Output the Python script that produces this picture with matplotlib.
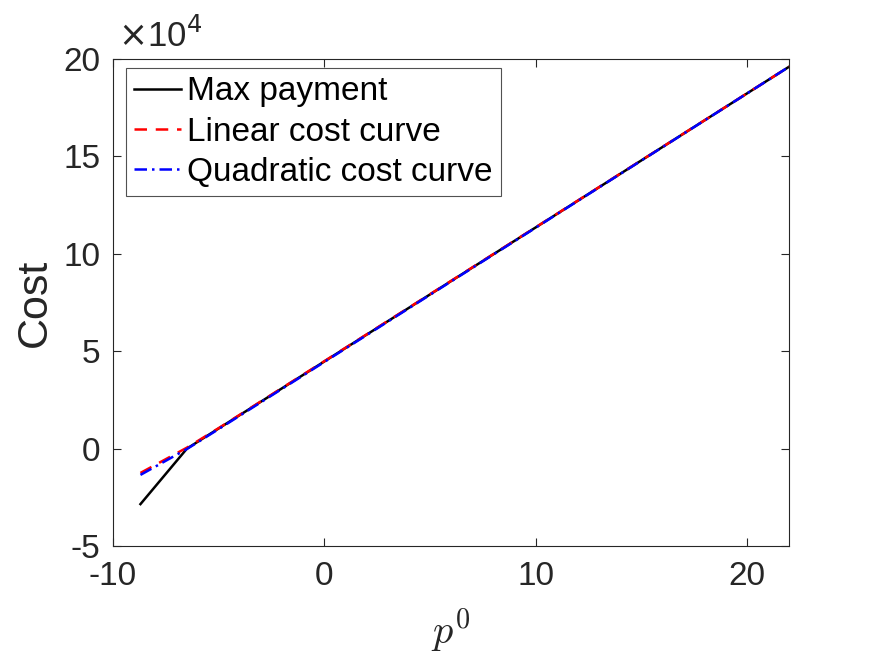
import matplotlib
matplotlib.use("Agg")
import matplotlib.pyplot as plt
import numpy as np

plt.rcParams['font.family'] = ['Liberation Sans', 'DejaVu Sans']
plt.rcParams['mathtext.fontset'] = 'cm'

# Data (cost in units of 1e4)
p_max = [-8.7, -6.5, 22.0]
cost_max = [-2.85, 0.0, 19.6]

p_lin = [-8.7, -6.5, -5.0, 22.0]
cost_lin = [-1.25, 0.05, 1.05, 19.6]

p_quad = [-8.7, -6.5, -5.0, 22.0]
cost_quad = [-1.35, -0.02, 1.0, 19.6]

xticks = [-10, 0, 10, 20]
yticks = [-5, 0, 5, 10, 15, 20]

fig = plt.figure(figsize=(8.72, 6.54), dpi=100)
ax = fig.add_axes([113/872, 108/654, 676/872, 487/654])

ax.plot(p_max, cost_max, color='black', lw=1.8, label='Max payment')
ax.plot(p_lin, cost_lin, color='red', lw=1.8, ls=(0, (5, 3.5)), label='Linear cost curve')
ax.plot(p_quad, cost_quad, color='blue', lw=1.8, ls=(0, (5, 2, 1, 2)), label='Quadratic cost curve')

ax.set_xlim(-10, 22)
ax.set_ylim(-5, 20)
ax.set_xticks(xticks)
ax.set_yticks(yticks)
ax.set_xticklabels([str(t) for t in xticks])
ax.set_yticklabels([str(t) for t in yticks])
ax.tick_params(direction='in', top=True, right=True, labelsize=24, length=6,
               width=0.8, colors='#262626')
ax.tick_params(axis='y', pad=9)
ax.tick_params(axis='x', pad=11)
for s in ax.spines.values():
    s.set_color('#262626')
    s.set_linewidth(0.8)

ax.set_ylabel('Cost', fontsize=31, color='#262626', labelpad=6)
ax.set_xlabel(r'$p^0$', fontsize=29, color='#262626', labelpad=10)

ax.text(0.007, 1.01, r'$\times$10$^4$', transform=ax.transAxes, fontsize=25,
        color='#262626', va='bottom', ha='left', family=['Liberation Sans', 'DejaVu Sans'],
        math_fontfamily='dejavusans')

leg = ax.legend(loc='upper left', bbox_to_anchor=(13/676, (487-9)/487),
                fontsize=24, frameon=True, fancybox=False,
                handlelength=1.4, handletextpad=0.18, labelspacing=0.28,
                borderpad=0.25, borderaxespad=0.0)
leg.get_frame().set_edgecolor('#262626')
leg.get_frame().set_linewidth(0.8)

fig.savefig('out.png', dpi=100)
